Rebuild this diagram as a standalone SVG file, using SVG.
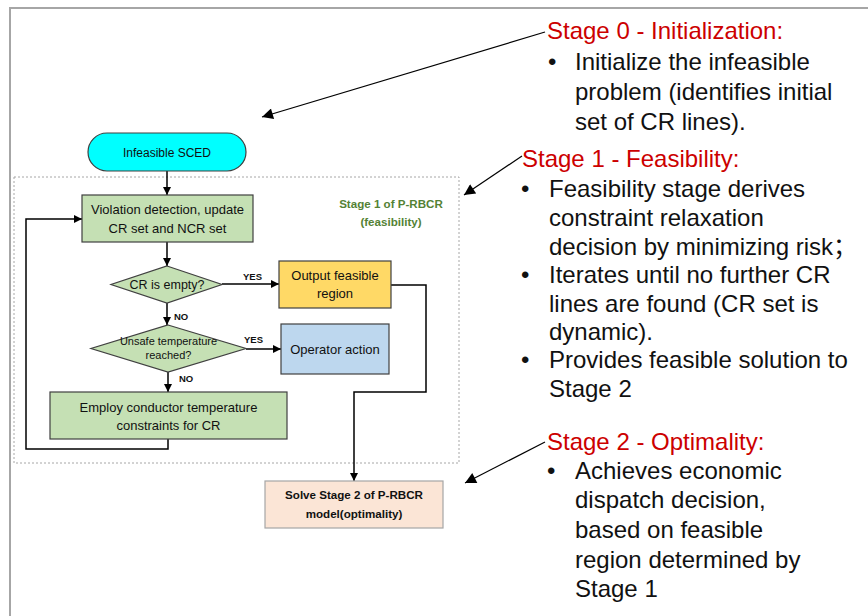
<svg xmlns="http://www.w3.org/2000/svg" width="868" height="616" viewBox="0 0 868 616">
<defs>
<marker id="ah" viewBox="0 0 10 10" refX="10" refY="5" markerWidth="9" markerHeight="8" orient="auto" markerUnits="userSpaceOnUse"><path d="M0,0 L10,5 L0,10 z" fill="#000"/></marker>
<marker id="ahb" viewBox="0 0 10 10" refX="10" refY="5" markerWidth="14" markerHeight="11" orient="auto" markerUnits="userSpaceOnUse"><path d="M0,0 L10,5 L0,10 z" fill="#000"/></marker>
<style>
.box{stroke:#404040;stroke-width:1.2}
.g{fill:#c5e0b4}
.t{font-family:"Liberation Sans",Arial,sans-serif;font-size:13px;fill:#111;text-anchor:middle}
.tb{font-family:"Liberation Sans",Arial,sans-serif;font-size:11.6px;font-weight:bold;text-anchor:middle}
.lab{font-family:"Liberation Sans",Arial,sans-serif;font-size:9.5px;font-weight:bold;fill:#111}
.flow{fill:none;stroke:#000;stroke-width:1.5}
.ptr{fill:none;stroke:#000;stroke-width:1.2}
.h{font-family:"Liberation Sans",Arial,sans-serif;font-size:24px;fill:#cc0000}
.b{font-family:"Liberation Sans",Arial,"Noto Sans CJK SC",sans-serif;font-size:24px;fill:#111}
</style>
</defs>
<rect x="0" y="0" width="868" height="616" fill="#fff"/>
<rect x="10" y="8" width="870" height="620" fill="#fff" stroke="#a6a6a6" stroke-width="2"/>
<rect id="stage1-region" x="14" y="177" width="445" height="286" fill="none" stroke="#a6a6a6" stroke-width="1" stroke-dasharray="2 2"/>

<g id="connectors">
<line class="flow" x1="167" y1="171" x2="167" y2="195" marker-end="url(#ah)"/>
<line class="flow" x1="167" y1="242" x2="167" y2="266" marker-end="url(#ah)"/>
<line class="flow" x1="222" y1="284" x2="279" y2="284" marker-end="url(#ah)"/>
<line class="flow" x1="167" y1="303" x2="167" y2="325" marker-end="url(#ah)"/>
<line class="flow" x1="246" y1="349" x2="281" y2="349" marker-end="url(#ah)"/>
<line class="flow" x1="168" y1="372" x2="168" y2="392" marker-end="url(#ah)"/>
<polyline class="flow" points="168,439 168,449 26,449 26,219 82,219" marker-end="url(#ah)"/>
<polyline class="flow" points="391,285 426,285 426,392 354,392 354,481" marker-end="url(#ah)"/>
<line class="ptr" x1="545" y1="32" x2="262" y2="117" marker-end="url(#ahb)"/>
<line class="ptr" x1="522" y1="156" x2="464" y2="195" marker-end="url(#ahb)"/>
<line class="ptr" x1="545" y1="442" x2="465" y2="483" marker-end="url(#ahb)"/>
<text class="lab" x="243" y="280">YES</text>
<text class="lab" x="174" y="320">NO</text>
<text class="lab" x="244" y="343">YES</text>
<text class="lab" x="179" y="382">NO</text>
</g>

<g id="infeasible-sced">
<rect class="box" x="88" y="133" width="158" height="38" rx="19" fill="#00ffff"/>
<text class="t" x="167" y="157" style="font-size:12px">Infeasible SCED</text>
</g>
<g id="violation-detection">
<rect class="box g" x="82" y="195" width="171" height="47"/>
<text class="t" x="167.5" y="214">Violation detection, update</text>
<text class="t" x="167.5" y="233">CR set and NCR set</text>
</g>
<g id="stage1-label">
<text class="tb" x="391" y="208" fill="#548235">Stage 1 of P-RBCR</text>
<text class="tb" x="391" y="226" fill="#548235">(feasibility)</text>
</g>
<g id="cr-empty">
<polygon class="box g" points="167,266 222,284.5 167,303 111,284.5"/>
<text class="t" x="167" y="288.5" style="font-size:12.5px">CR is empty?</text>
</g>
<g id="output-feasible">
<rect class="box" x="279" y="261" width="112" height="47" fill="#ffd966"/>
<text class="t" x="335" y="280">Output feasible</text>
<text class="t" x="335" y="298">region</text>
</g>
<g id="unsafe-temp">
<polygon class="box g" points="168,325 246,348.5 168,372 91,348.5"/>
<text class="t" x="168.5" y="345" style="font-size:11px">Unsafe temperature</text>
<text class="t" x="168.5" y="359" style="font-size:11px">reached?</text>
</g>
<g id="operator-action">
<rect class="box" x="281" y="324" width="108" height="50" fill="#bdd7ee"/>
<text class="t" x="335" y="354">Operator action</text>
</g>
<g id="employ-constraints">
<rect class="box g" x="50" y="392" width="237" height="47"/>
<text class="t" x="168.5" y="412">Employ conductor temperature</text>
<text class="t" x="168.5" y="430">constraints for CR</text>
</g>
<g id="solve-stage2">
<rect x="265" y="481" width="178" height="47" fill="#fbe5d6" stroke="#a6a6a6" stroke-width="1.2"/>
<text class="tb" x="354" y="499" fill="#111">Solve Stage 2 of P-RBCR</text>
<text class="tb" x="354" y="518" fill="#111">model(optimality)</text>
</g>

<g id="stage0-text">
<text class="h" x="547" y="39">Stage 0 - Initialization:</text>
<text class="b" x="548" y="70">•</text>
<text class="b" x="575" y="70">Initialize the infeasible</text>
<text class="b" x="575" y="100">problem (identifies initial</text>
<text class="b" x="575" y="130">set of CR lines).</text>
</g>
<g id="stage1-text">
<text class="h" x="522" y="167">Stage 1 - Feasibility:</text>
<text class="b" x="521" y="197">•</text>
<text class="b" x="549" y="197">Feasibility stage derives</text>
<text class="b" x="549" y="226">constraint relaxation</text>
<text class="b" x="549" y="255">decision by minimizing risk；</text>
<text class="b" x="521" y="283">•</text>
<text class="b" x="549" y="283">Iterates until no further CR</text>
<text class="b" x="549" y="312">lines are found (CR set is</text>
<text class="b" x="549" y="340">dynamic).</text>
<text class="b" x="521" y="368">•</text>
<text class="b" x="549" y="368">Provides feasible solution to</text>
<text class="b" x="549" y="397">Stage 2</text>
</g>
<g id="stage2-text">
<text class="h" x="547" y="450">Stage 2 - Optimality:</text>
<text class="b" x="547" y="479">•</text>
<text class="b" x="575" y="479">Achieves economic</text>
<text class="b" x="575" y="508">dispatch decision,</text>
<text class="b" x="575" y="538">based on feasible</text>
<text class="b" x="575" y="568">region determined by</text>
<text class="b" x="575" y="597">Stage 1</text>
</g>
</svg>
